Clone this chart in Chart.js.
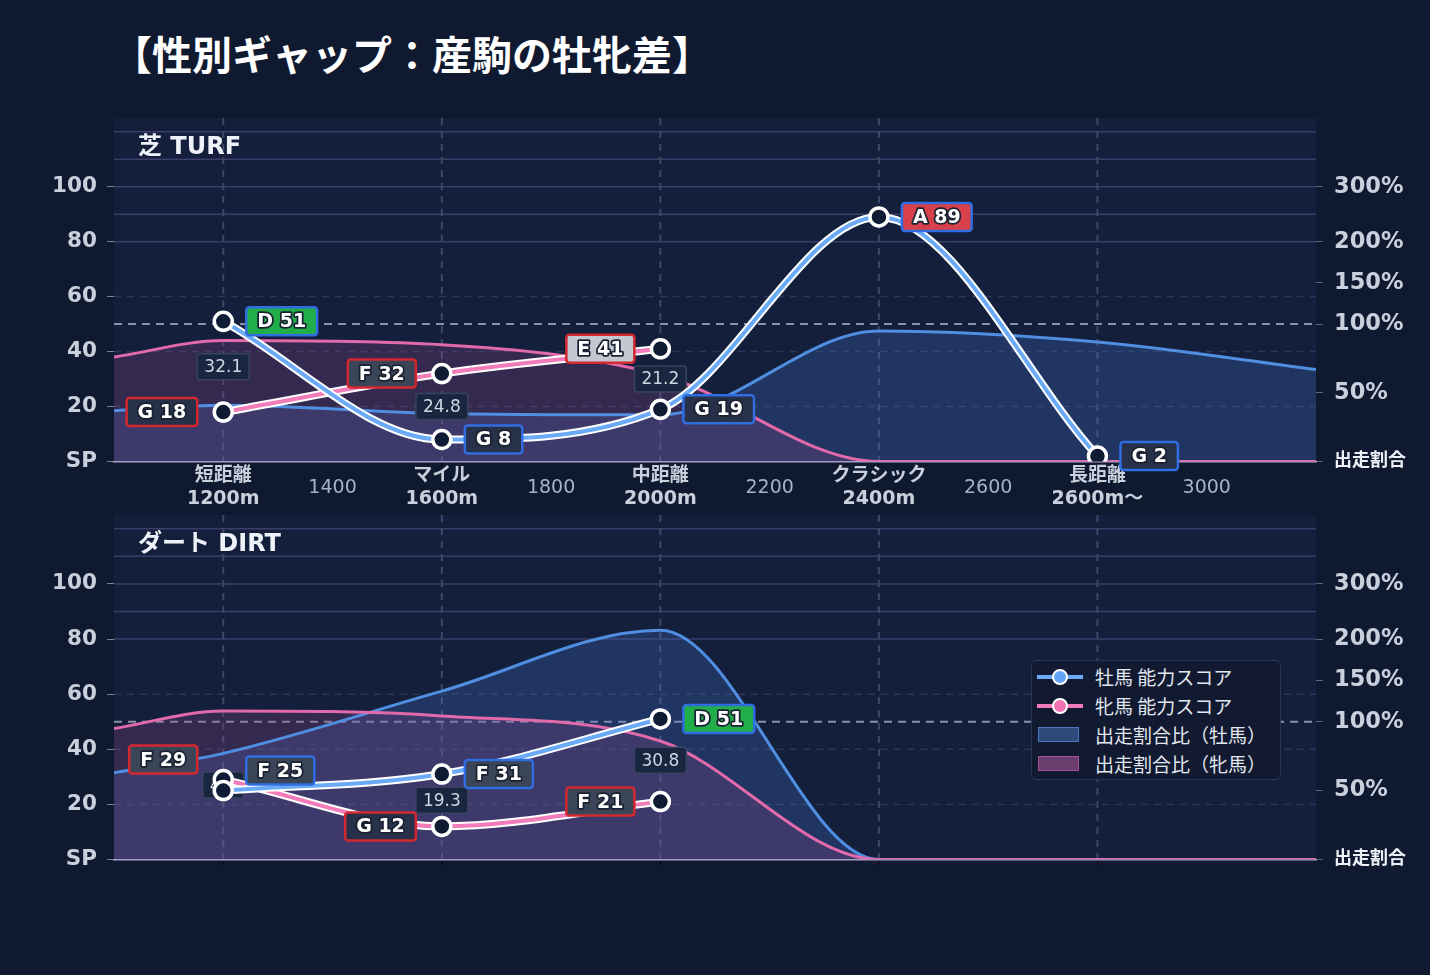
<!DOCTYPE html>
<html lang="ja">
<head>
<meta charset="utf-8">
<script src="https://cdn.jsdelivr.net/npm/chart.js@4.4.1/dist/chart.umd.min.js"></script>
<style>
  html, body { margin: 0; padding: 0; background: #0f1930; width: 1430px; height: 975px; overflow: hidden; }
  body { position: relative; font-family: "DejaVu Sans", "Noto Sans CJK JP", sans-serif; }
  #title { position: absolute; left: 112px; top: 33px; font: bold 40px/40px "Noto Sans CJK JP", sans-serif; color: #ffffff; white-space: nowrap; }
  canvas { position: absolute; left: 0; }
  #turf { top: 100px; }
  #dirt { top: 500px; }
  #legend { position: absolute; left: 1031px; top: 660px; width: 248px; height: 118px; background: #111a30;
            border: 1.5px solid #2b3752; border-radius: 5px; font: 19px "Noto Sans CJK JP", sans-serif; color: #e3e8f0; }
  .row { position: absolute; left: 0; height: 29px; line-height: 29px; width: 100%; }
  .row span.txt { position: absolute; left: 63px; white-space: nowrap; }
  .ln { position: absolute; left: 5px; top: 13px; width: 46px; height: 4px; }
  .dot { position: absolute; left: 20px; top: 7px; width: 12px; height: 12px; border-radius: 50%; border: 2.5px solid #fff; }
  .box { position: absolute; left: 6px; top: 7px; width: 39px; height: 13px; border: 1.5px solid; }
</style>
</head>
<body>
<div id="title">【性別ギャップ：産駒の牡牝差】</div>
<canvas id="turf" width="1430" height="420"></canvas>
<canvas id="dirt" width="1430" height="380"></canvas>
<div id="legend"></div>
<script>
// distance categories (x positions on the distance axis)
const catPos = [1200, 1600, 2000, 2400, 2800];
const catNames = ['短距離', 'マイル', '中距離', 'クラシック', '長距離'];
const catDist = ['1200m', '1600m', '2000m', '2400m', '2600m〜'];
const midTicks = [1400, 1800, 2200, 2600, 3000];

// left axis (ability score) and right axis (share ratio)
const scoreTicks = [0, 20, 40, 60, 80, 100];
const shareTicks = [0, 50, 100, 150, 200, 300];       // %
const shareTickPos = [0, 25, 50, 65, 80, 100];        // where they sit on the score scale
const bandLines = [80, 90, 100, 110, 120];
const dashLines = [20, 40, 60];
const refLine = 50;

// share ratio sample points
const shareX = [1000, 1200, 1600, 2000, 2400, 2800, 3200];

// 芝
const turfMaleScore = [51, 8, 19, 89, 2];
const turfMaleGrade = ['D', 'G', 'G', 'A', 'G'];
const turfFemaleScore = [18, 32, 41, null, null];
const turfFemaleGrade = ['G', 'F', 'E', null, null];
const turfGap = [32.1, 24.8, 21.2, null, null];
const turfMaleShare = [37, 41, 35, 34, 95, 87, 67];
const turfFemaleShare = [76, 88, 85, 63, 0, 0, 0];

// ダート
const dirtMaleScore = [25, 31, 51, null, null];
const dirtMaleGrade = ['F', 'F', 'D', null, null];
const dirtFemaleScore = [29, 12, 21, null, null];
const dirtFemaleGrade = ['F', 'G', 'F', null, null];
const dirtGap = [4.1, 19.3, 30.8, null, null];
const dirtMaleShare = [63, 77, 137, 216, 0, 0, 0];
const dirtFemaleShare = [95, 113, 107, 86, 0, 0, 0];

const FONT = '"DejaVu Sans", "Noto Sans CJK JP", sans-serif';
const Y_MAX = 125;
const gradeFill = { A: '#d8404a', B: '#e07a30', C: '#d6b02a', D: '#22ad4b', E: '#c3c8d3', F: '#3b4558', G: '#27314a' };
const MALE = { line: '#6aaaf6', border: '#2f6de0', area: '#4f8ee0', fill: 'rgba(70,120,210,0.25)', legendBox: '#2c4a7c', legendEdge: '#4a78c0' };
const FEMALE = { line: '#f27cb9', border: '#d3282f', area: '#e06aaa', fill: 'rgba(150,70,140,0.25)', legendBox: '#6a3d6e', legendEdge: '#a54f94' };

// right axis is piecewise linear through its tick marks
function shareToY(p) {
    for (let i = 1; i < shareTicks.length; i++) {
        if (p <= shareTicks[i]) {
            const t = (p - shareTicks[i - 1]) / (shareTicks[i] - shareTicks[i - 1]);
            return shareTickPos[i - 1] + t * (shareTickPos[i] - shareTickPos[i - 1]);
        }
    }
    return shareTickPos[shareTickPos.length - 1];
}

const pts = (xs, ys) => xs.map((x, i) => ({ x, y: ys[i] })).filter(p => p.y !== null);

function roundRect(ctx, x, y, w, h, r) {
    ctx.beginPath();
    ctx.moveTo(x + r, y);
    ctx.arcTo(x + w, y, x + w, y + h, r);
    ctx.arcTo(x + w, y + h, x, y + h, r);
    ctx.arcTo(x, y + h, x, y, r);
    ctx.arcTo(x, y, x + w, y, r);
    ctx.closePath();
}

function drawTag(ctx, text, x, y, side, fill, border) {
    ctx.save();
    ctx.font = 'bold 19px ' + FONT;
    const w = ctx.measureText(text).width + 22, h = 28;
    const left = side === 'right' ? x + 23 : x - 26 - w;
    roundRect(ctx, left, y - h / 2, w, h, 3);
    ctx.fillStyle = fill;
    ctx.fill();
    ctx.lineWidth = 2.5;
    ctx.strokeStyle = border;
    ctx.stroke();
    ctx.textAlign = 'center';
    ctx.textBaseline = 'middle';
    ctx.lineJoin = 'round';
    ctx.lineWidth = 3.5;
    ctx.strokeStyle = '#1a2131';
    ctx.strokeText(text, left + w / 2, y + 1);
    ctx.fillStyle = '#ffffff';
    ctx.fillText(text, left + w / 2, y + 1);
    ctx.restore();
}

function drawGap(ctx, text, x, y) {
    ctx.save();
    ctx.font = '17px ' + FONT;
    const w = ctx.measureText(text).width + 14, h = 26;
    roundRect(ctx, x - w / 2, y - h / 2, w, h, 3);
    ctx.fillStyle = '#1a2640';
    ctx.fill();
    ctx.lineWidth = 1.5;
    ctx.strokeStyle = '#36445f';
    ctx.stroke();
    ctx.fillStyle = '#cfd6e2';
    ctx.textAlign = 'center';
    ctx.textBaseline = 'middle';
    ctx.fillText(text, x, y + 1);
    ctx.restore();
}

const panelPlugin = {
    id: 'panel',
    beforeDraw(chart) {
        const { ctx, chartArea: a, scales } = chart;
        const y = scales.y, x = scales.x;
        ctx.save();
        ctx.fillStyle = '#131f3b';
        ctx.fillRect(a.left, a.top, a.right - a.left, a.bottom - a.top);
        ctx.lineWidth = 1.5;
        ctx.strokeStyle = '#2b3755';
        ctx.setLineDash([7, 6]);
        dashLines.forEach(v => {
            const py = y.getPixelForValue(v);
            ctx.beginPath(); ctx.moveTo(a.left, py); ctx.lineTo(a.right, py); ctx.stroke();
        });
        ctx.setLineDash([]);
        ctx.strokeStyle = '#3d3d6a';
        bandLines.forEach(v => {
            const py = y.getPixelForValue(v);
            ctx.beginPath(); ctx.moveTo(a.left, py); ctx.lineTo(a.right, py); ctx.stroke();
        });
        ctx.lineWidth = 2;
        ctx.strokeStyle = '#3c4866';
        ctx.setLineDash([7, 6]);
        catPos.forEach(v => {
            const px = x.getPixelForValue(v);
            ctx.beginPath(); ctx.moveTo(px, a.top); ctx.lineTo(px, a.bottom); ctx.stroke();
        });
        ctx.strokeStyle = '#8a92a9';
        ctx.setLineDash([8, 6]);
        const ry = y.getPixelForValue(refLine);
        ctx.beginPath(); ctx.moveTo(a.left, ry); ctx.lineTo(a.right, ry); ctx.stroke();
        ctx.setLineDash([]);
        ctx.font = 'bold 24px ' + FONT;
        ctx.fillStyle = '#eef2f8';
        ctx.textBaseline = 'middle';
        ctx.fillText(chart.options.plugins.panel.title, 138, a.top + 30);
        ctx.restore();
    },
    beforeDatasetDraw(chart, args) {
        const ds = chart.data.datasets[args.index];
        if (!ds.casing) return;
        // white casing under the score line
        const line = args.meta.dataset;
        const saved = line.options;
        line.options = Object.assign({}, saved, { borderColor: '#ffffff', borderWidth: saved.borderWidth + 4 });
        line.draw(chart.ctx, chart.chartArea);
        line.options = saved;
    },
    afterDatasetDraw(chart, args) {
        const ds = chart.data.datasets[args.index];
        if (!ds.gapLayer) return;
        const p = chart.options.plugins.panel;
        const { x, y } = chart.scales;
        p.gap.forEach((g, i) => {
            if (g === null) return;
            const mid = (p.maleScore[i] + p.femaleScore[i]) / 2;
            drawGap(chart.ctx, g.toFixed(1), x.getPixelForValue(catPos[i]), y.getPixelForValue(mid));
        });
    },
    afterDatasetsDraw(chart) {
        const p = chart.options.plugins.panel;
        const { x, y } = chart.scales;
        const ctx = chart.ctx;
        catPos.forEach((cx, i) => {
            const m = p.maleScore[i], f = p.femaleScore[i];
            const lift = (m !== null && f !== null && Math.abs(m - f) < 8) ? 20 : 0;
            const px = x.getPixelForValue(cx);
            if (f !== null) drawTag(ctx, p.femaleGrade[i] + ' ' + f, px, y.getPixelForValue(f) - lift, 'left', gradeFill[p.femaleGrade[i]], FEMALE.border);
            if (m !== null) drawTag(ctx, p.maleGrade[i] + ' ' + m, px, y.getPixelForValue(m) - lift, 'right', gradeFill[p.maleGrade[i]], MALE.border);
        });
    }
};

function noPad(s) { s.paddingTop = 0; s.paddingBottom = 0; }

function makeChart(id, panel, showX, padTop, xHeight) {
    const allX = catPos.concat(midTicks).sort((a, b) => a - b);
    return new Chart(document.getElementById(id), {
        type: 'line',
        data: {
            datasets: [
                { label: '牡馬 能力スコア', data: pts(catPos, panel.maleScore), borderColor: MALE.line, borderWidth: 4,
                  pointRadius: 9, pointBorderWidth: 3.5, pointBackgroundColor: '#0f1a33', pointBorderColor: '#ffffff',
                  cubicInterpolationMode: 'monotone', order: 1, casing: true, yAxisID: 'y' },
                { label: '牝馬 能力スコア', data: pts(catPos, panel.femaleScore), borderColor: FEMALE.line, borderWidth: 4,
                  pointRadius: 9, pointBorderWidth: 3.5, pointBackgroundColor: '#0f1a33', pointBorderColor: '#ffffff',
                  cubicInterpolationMode: 'monotone', order: 2, casing: true, yAxisID: 'y' },
                { label: '出走割合比（牡馬）', data: pts(shareX, panel.maleShare.map(shareToY)), borderColor: MALE.area, borderWidth: 3,
                  backgroundColor: MALE.fill, fill: 'origin', pointRadius: 0, cubicInterpolationMode: 'monotone', order: 4, yAxisID: 'y' },
                { label: '出走割合比（牝馬）', data: pts(shareX, panel.femaleShare.map(shareToY)), borderColor: FEMALE.area, borderWidth: 3,
                  backgroundColor: FEMALE.fill, fill: 'origin', pointRadius: 0, cubicInterpolationMode: 'monotone', order: 3, gapLayer: true, yAxisID: 'y' }
            ]
        },
        options: {
            responsive: false,
            animation: false,
            layout: { padding: { top: padTop, left: 0, right: 0, bottom: 0 } },
            plugins: { legend: { display: false }, tooltip: { enabled: false }, filler: { drawTime: 'beforeDatasetsDraw' }, panel: panel },
            scales: {
                x: {
                    type: 'linear', min: 1000, max: 3200,
                    afterBuildTicks: s => { s.ticks = allX.map(v => ({ value: v })); },
                    afterFit: s => { s.height = xHeight; s.paddingLeft = 0; s.paddingRight = 0; },
                    border: { color: '#aaa4cc', width: 1.5 },
                    grid: { drawOnChartArea: false, drawTicks: true, tickLength: 6,
                            tickColor: c => catPos.includes(c.tick && c.tick.value) ? '#060a14' : 'rgba(0,0,0,0)' },
                    ticks: {
                        display: showX, autoSkip: false, maxRotation: 0, minRotation: 0, padding: 9, crossAlign: 'center',
                        callback: v => { const k = catPos.indexOf(v); return k >= 0 ? [catNames[k], catDist[k]] : String(v); },
                        font: c => catPos.includes(c.tick && c.tick.value) ? { family: FONT, size: 19, weight: 'bold' } : { family: FONT, size: 19 },
                        color: c => catPos.includes(c.tick && c.tick.value) ? '#c8d0dc' : '#a9b3c4'
                    }
                },
                y: {
                    position: 'left', min: 0, max: Y_MAX,
                    afterBuildTicks: s => { s.ticks = scoreTicks.map(v => ({ value: v })); },
                    afterFit: s => { s.width = 114; noPad(s); },
                    border: { display: false },
                    grid: { drawOnChartArea: false, tickLength: 7, tickColor: '#7a8599' },
                    ticks: { padding: 10, color: '#c8d0dc', font: { family: FONT, size: 21.5, weight: 'bold' },
                             callback: v => v === 0 ? 'SP' : String(v) }
                },
                y2: {
                    position: 'right', min: 0, max: Y_MAX,
                    afterBuildTicks: s => { s.ticks = shareTickPos.map(v => ({ value: v })); },
                    afterFit: s => { s.width = 114; noPad(s); },
                    border: { display: false },
                    grid: { drawOnChartArea: false, tickLength: 7, tickColor: '#5a6680' },
                    ticks: { padding: 11, color: c => c.index === 0 ? '#eef2f8' : '#c8d0dc',
                             font: c => c.index === 0 ? { family: FONT, size: 18, weight: 'bold' } : { family: FONT, size: 22.5, weight: 'bold' },
                             callback: (v, i) => i === 0 ? '出走割合' : shareTicks[i] + '%' }
                }
            }
        },
        plugins: [panelPlugin]
    });
}

const turfPanel = { title: '芝 TURF', maleScore: turfMaleScore, maleGrade: turfMaleGrade, femaleScore: turfFemaleScore,
                    femaleGrade: turfFemaleGrade, gap: turfGap, maleShare: turfMaleShare, femaleShare: turfFemaleShare };
const dirtPanel = { title: 'ダート DIRT', maleScore: dirtMaleScore, maleGrade: dirtMaleGrade, femaleScore: dirtFemaleScore,
                    femaleGrade: dirtFemaleGrade, gap: dirtGap, maleShare: dirtMaleShare, femaleShare: dirtFemaleShare };

makeChart('turf', turfPanel, true, 18, 58.5);
const dirtChart = makeChart('dirt', dirtPanel, false, 15, 20.5);

// legend built from the dirt chart's datasets
const legend = document.getElementById('legend');
const sw = [MALE, FEMALE, MALE, FEMALE];
dirtChart.data.datasets.forEach((ds, i) => {
    const row = document.createElement('div');
    row.className = 'row';
    row.style.top = (1 + i * 29) + 'px';
    const c = sw[i];
    row.innerHTML = i < 2
        ? `<span class="ln" style="background:${ds.borderColor}"></span><span class="dot" style="background:${i === 0 ? '#63a4f6' : '#f271b3'}"></span>`
        : `<span class="box" style="background:${c.legendBox};border-color:${c.legendEdge}"></span>`;
    const t = document.createElement('span');
    t.className = 'txt';
    t.textContent = ds.label;
    row.appendChild(t);
    legend.appendChild(row);
});
</script>
</body>
</html>
